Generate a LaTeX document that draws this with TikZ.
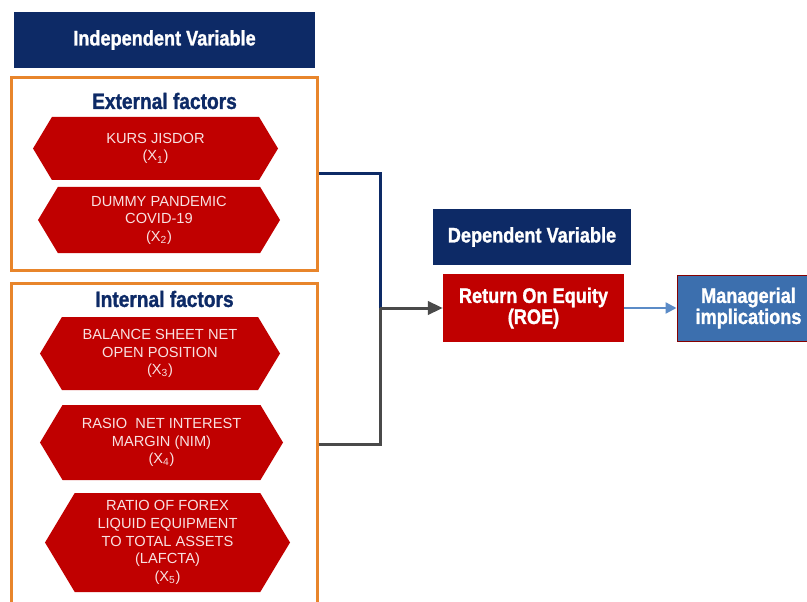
\documentclass[tikz,border=0pt]{standalone}
\usepackage{fontspec}
\setmainfont{Liberation Sans}
\newfontfamily\titlefont[FakeStretch=0.86, BoldFeatures={FakeBold=1.2}]{Liberation Sans}
\usepackage{tikz}
\usetikzlibrary{arrows.meta,positioning,shapes.symbols}

\definecolor{navy}{HTML}{0D2A66}
\definecolor{boxorange}{HTML}{E8852B}
\definecolor{hexred}{HTML}{C00000}
\definecolor{hextext}{HTML}{F8E1E1}
\definecolor{linegray}{HTML}{4A4A4A}
\definecolor{steel}{HTML}{5B8BC7}
\definecolor{mgblue}{HTML}{3C6FAE}

\tikzset{
  varbox/.style={fill=navy, text=white, inner sep=0pt, font=\titlefont\bfseries\fontsize{18}{20}\selectfont},
  factorbox/.style={draw=boxorange, line width=0.9mm, inner sep=0pt},
  factortitle/.style={text=navy, font=\titlefont\bfseries\fontsize{19}{21}\selectfont},
  hexbox/.style={signal, signal to=east and west, signal pointer angle=118, fill=hexred, text=hextext, inner sep=0pt, align=center, font=\fontsize{12.5}{15}\selectfont},
  resultbox/.style={text=white, align=center, inner sep=0pt, font=\titlefont\bfseries\fontsize{18}{18}\selectfont}
}

\begin{document}
\begin{tikzpicture}[x=0.3mm, y=-0.3mm]
		\useasboundingbox (0,0) rectangle (807,602);
		
		% Independent side
		\node[varbox, minimum width=90.3mm, minimum height=16.8mm] (indep) at (164.5,40) {Independent Variable};
		
		\node[factorbox, minimum width=91.5mm, minimum height=57.6mm] (ext) at (164.5,174) {};
		\node[factortitle] (exttitle) at (164.5,101) {External factors};
		\node[hexbox, minimum width=73.5mm, minimum height=18.9mm] (x1) at (155.5,148.5) {KURS JISDOR\\(X\textsubscript{1})};
		\node[hexbox, minimum width=72.6mm, minimum height=19.8mm] (x2) at (159,220) {DUMMY PANDEMIC\\COVID-19\\(X\textsubscript{2})};
		
		\node[factorbox, minimum width=91.5mm, minimum height=96.6mm] (int) at (164.5,444) {};
		\node[factortitle] (inttitle) at (164.5,299) {Internal factors};
		\node[hexbox, minimum width=72mm, minimum height=21.9mm] (x3) at (160,353.5) {BALANCE SHEET NET\\OPEN POSITION\\(X\textsubscript{3})};
		\node[hexbox, minimum width=72.9mm, minimum height=22.5mm] (x4) at (161.5,442.5) {RASIO \ NET INTEREST\\MARGIN (NIM)\\(X\textsubscript{4})};
		\node[hexbox, minimum width=73.5mm, minimum height=29.7mm] (x5) at (167.5,542.5) {RATIO OF FOREX\\LIQUID EQUIPMENT\\TO TOTAL ASSETS\\(LAFCTA)\\(X\textsubscript{5})};
		
		% Dependent side
		\node[varbox, minimum width=59.4mm, minimum height=16.8mm] (dep) at (532,237) {Dependent Variable};
		\node[resultbox, fill=hexred, minimum width=54.3mm, minimum height=20.4mm] (roe) at (533.5,308) {Return On Equity\\(ROE)};
		\node[resultbox, fill=mgblue, draw=hexred!70!black, line width=0.3mm, minimum width=42.9mm, minimum height=19.8mm] (mgr) at (748.5,308) {Managerial\\implications};
		
		\coordinate (join) at (380,308);
		
		% Draw edges
		\draw[navy, line width=0.9mm] (ext.east) -| (join);
		\draw[linegray, line width=0.9mm] (int.east) -| (join);
		\draw[linegray, line width=0.9mm, -{Triangle[length=4.5mm, width=4mm]}] (join) -- (roe.west);
		\draw[steel, line width=0.7mm, -{Triangle[length=3.3mm, width=3.3mm]}] (roe.east) -- (mgr.west);
	\end{tikzpicture}
\end{document}
